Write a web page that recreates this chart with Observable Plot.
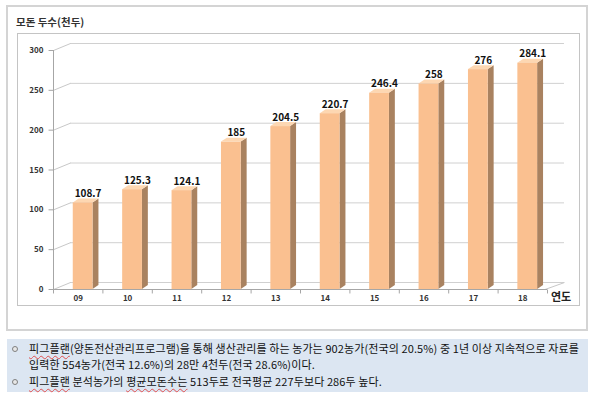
<!DOCTYPE html>
<html>
<head>
<meta charset="utf-8">
<script src="https://cdn.jsdelivr.net/npm/d3@7"></script>
<script src="https://cdn.jsdelivr.net/npm/@observablehq/plot@0.6"></script>
<style>
  html, body { margin: 0; padding: 0; background: #fff; }
  #wrap { position: relative; width: 600px; height: 396px; overflow: hidden; font-family: "Noto Sans CJK KR", "Noto Sans", sans-serif; }
  #outer { position: absolute; left: 6px; top: 5px; width: 578px; height: 322px; border: 2px solid #d4d4d4; }
  #inner { position: absolute; left: 17px; top: 33px; width: 561px; height: 271px; border: 1px solid #c4c4c4; }
  #title { position: absolute; left: 16px; top: 14px; font-size: 10.5px; font-weight: bold; color: #333; }
  #chart { position: absolute; left: 0; top: 0; }
  #xname { position: absolute; left: 551px; top: 288px; font-size: 11px; font-weight: bold; color: #222; }
  #notes { position: absolute; left: 7px; top: 339px; width: 581px; height: 53px; background: #dce6f2; }
  .line { position: absolute; left: 22px; font-size: 11px; color: #111; white-space: nowrap; letter-spacing: 0.1px; }
  .bul { position: absolute; left: 5px; width: 4px; height: 4px; border: 1.5px solid #7f7f7f; border-radius: 50%; background: #e8e8e8; }
  .sp { text-decoration: underline wavy #e05050; text-decoration-thickness: 1px; text-underline-offset: 2px; }
</style>
</head>
<body>
<div id="wrap">
  <div id="outer"></div>
  <div id="inner"></div>
  <div id="title">모돈 두수(천두)</div>
  <div id="chart"></div>
  <div id="xname">연도</div>
  <div id="notes">
    <div class="bul" style="top:7px"></div>
    <div class="line" style="top:1px"><span class="sp">피그플랜</span>(양돈전산관리프로그램)을 통해 생산관리를 하는 농가는 902농가(전국의 20.5%) 중 1년 이상 지속적으로 자료를</div>
    <div class="line" style="top:17px">입력한 554농가(전국 12.6%)의 28만 4천두(전국 28.6%)이다.</div>
    <div class="bul" style="top:40px"></div>
    <div class="line" style="top:34px"><span class="sp">피그플랜</span> 분석농가의 <span class="sp">평균모돈수는</span> 513두로 전국평균 227두보다 286두 높다.</div>
  </div>
</div>
<script>
const years = ["09", "10", "11", "12", "13", "14", "15", "16", "17", "18"];
const values = [108.7, 125.3, 124.1, 185, 204.5, 220.7, 246.4, 258, 276, 284.1];
const yTicks = [0, 50, 100, 150, 200, 250, 300];

const bars = years.map((year, i) => ({i, year, value: values[i]}));
const D = 0.12;      // bar depth (x units)
const H = 5;         // bar depth (y units)
const GX = 0.344;    // wall depth (x units)
const GY = 8.75;     // wall depth (y units)
const x1 = b => b.i - 0.1, x2 = b => b.i + 0.3;

const sides = bars.flatMap(b => [
  {id: b.i, x: x2(b), lo: 0, hi: b.value},
  {id: b.i, x: x2(b) + D, lo: H, hi: b.value + H}
]);
const tops = bars.flatMap(b => [
  {id: b.i, x: x1(b), lo: b.value, hi: b.value},
  {id: b.i, x: x1(b) + D, lo: b.value, hi: b.value + H},
  {id: b.i, x: x2(b), lo: b.value, hi: b.value + H},
  {id: b.i, x: x2(b) + D, lo: b.value + H, hi: b.value + H}
]);
const xTicks = d3.range(-0.5, years.length, 1);

const chart = Plot.plot({
  width: 600,
  height: 320,
  marginTop: 50,
  marginBottom: 31,
  marginLeft: 53,
  marginRight: 53,
  x: {type: "linear", domain: [-0.5, years.length - 0.5], axis: null},
  y: {type: "linear", domain: [0, 300], axis: null},
  style: {fontFamily: "'Noto Sans CJK KR', 'Noto Sans', sans-serif", background: "transparent", overflow: "visible"},
  marks: [
    Plot.ruleY(yTicks, {y: d => d + GY, x1: -0.5 + GX, x2: years.length - 0.5 + GX, stroke: "#d0d0d0", strokeWidth: 1}),
    Plot.link(yTicks, {x1: -0.5, y1: d => d, x2: -0.5 + GX, y2: d => d + GY, stroke: "#c8c8c8"}),
    Plot.link([0], {x1: years.length - 0.55, y1: 0, x2: years.length - 0.5 + GX, y2: GY, stroke: "#c8c8c8"}),
    Plot.ruleX([-0.5], {y1: 0, y2: 300, stroke: "#a6a6a6"}),
    Plot.ruleY([0], {x1: -0.5, x2: years.length - 0.5, stroke: "#a6a6a6"}),
    Plot.link(yTicks, {x1: -0.6, x2: -0.5, y1: d => d, y2: d => d, stroke: "#a6a6a6"}),
    Plot.link(xTicks, {x1: d => d, x2: d => d, y1: 0, y2: -5, stroke: "#a6a6a6"}),
    Plot.text(yTicks, {x: -0.5, y: d => d, dx: -10, text: d => String(d), textAnchor: "end", fontSize: 8, fontWeight: "bold", fill: "#333"}),
    Plot.text(bars, {x: "i", y: 0, dy: 9, text: "year", fontSize: 8, fontWeight: "bold", fill: "#333"}),
    Plot.areaY(sides, {x: "x", y1: "lo", y2: "hi", z: "id", fill: "#a98260", curve: "linear"}),
    Plot.areaY(tops, {x: "x", y1: "lo", y2: "hi", z: "id", fill: "#fdd7b2", curve: "linear"}),
    Plot.rect(bars, {x1: x1, x2: x2, y1: 0, y2: "value", fill: "#fac090"}),
    Plot.text(bars, {x: d => d.i + 0.2, y: "value", dy: -9, text: d => String(d.value), fontSize: 10, fontWeight: "bold", fill: "#111"})
  ]
});
document.getElementById("chart").appendChild(chart);
</script>
</body>
</html>
